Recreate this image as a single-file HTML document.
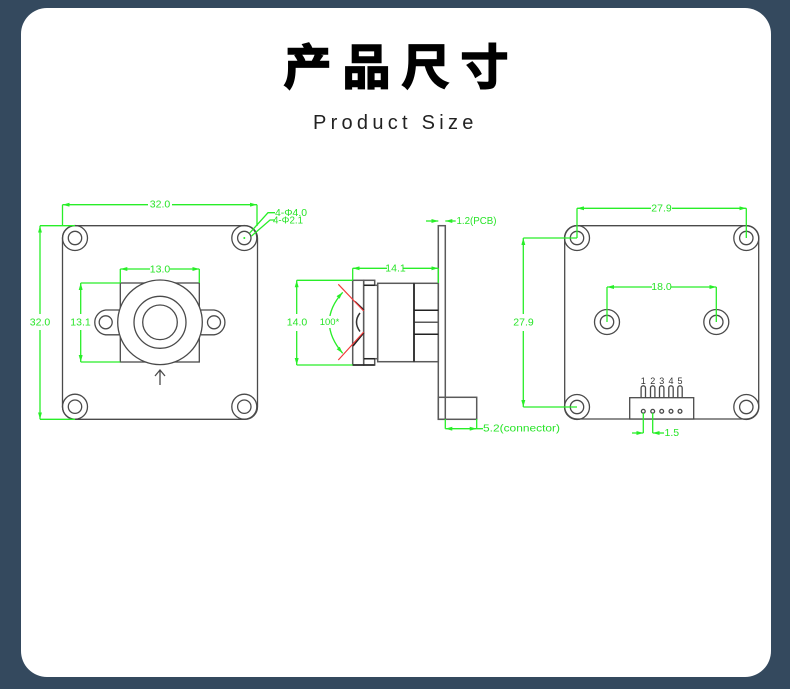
<!DOCTYPE html>
<html><head><meta charset="utf-8">
<style>
html,body{margin:0;padding:0;background:#34495e;width:790px;height:689px;overflow:hidden}
svg{display:block;position:absolute;left:0;top:0}
.g{stroke:#28ee28;stroke-width:1.3;fill:none}
.k{stroke:#4a4a4a;stroke-width:1.3;fill:none}
.kd{stroke:#222;stroke-width:1.5;fill:none}
.r{stroke:#f03a3a;stroke-width:1.2;fill:none}
text{font-family:"Liberation Sans",sans-serif}
.t{fill:#28e428;font-size:10.5px;text-anchor:middle;dominant-baseline:central}
.tl{fill:#28e428;font-size:10.5px;dominant-baseline:central}
.n{fill:#333;font-size:9px;text-anchor:middle}
</style></head><body>
<svg width="790" height="689" viewBox="0 0 790 689" xmlns="http://www.w3.org/2000/svg">
<defs>
<marker id="ae" viewBox="0 0 7 4" refX="7" refY="2" markerWidth="7" markerHeight="4" orient="auto" markerUnits="userSpaceOnUse"><path d="M0 0L7 2L0 4Z" fill="#28ee28"/></marker>
<marker id="as" viewBox="0 0 7 4" refX="0" refY="2" markerWidth="7" markerHeight="4" orient="auto" markerUnits="userSpaceOnUse"><path d="M7 0L0 2L7 4Z" fill="#28ee28"/></marker>
</defs>
<rect x="0" y="0" width="790" height="689" fill="#34495e"/>
<rect x="21" y="8" width="750" height="669" rx="26" ry="26" fill="#fff"/>

<text x="401.5" y="84" text-anchor="middle" font-size="48" font-weight="700" letter-spacing="11" style='font-family:"Noto Sans CJK SC","WenQuanYi Zen Hei",sans-serif' fill="#000" stroke="#000" stroke-width="1.6">产品尺寸</text>
<text x="313" y="129" font-size="20" letter-spacing="4.27" fill="#222">Product Size</text>

<!-- Front view -->
<g class="k">
<rect x="62.5" y="225.7" width="195" height="193.6" rx="12.5" ry="12.5"/>
<circle cx="75" cy="238" r="12.5"/><circle cx="75" cy="238" r="6.7"/>
<circle cx="244.3" cy="238" r="12.5"/><circle cx="244.3" cy="238" r="6.7"/>
<circle cx="75" cy="406.7" r="12.5"/><circle cx="75" cy="406.7" r="6.7"/>
<circle cx="244.3" cy="406.7" r="12.5"/><circle cx="244.3" cy="406.7" r="6.7"/>
<rect x="120.3" y="283" width="79" height="79"/>
<path d="M119 310H105.7A12.5 12.5 0 0 0 105.7 334.8H119" fill="#fff"/>
<path d="M201 310H214A12.5 12.5 0 0 1 214 334.8H201" fill="#fff"/>
<circle cx="105.7" cy="322.3" r="6.5"/>
<circle cx="214" cy="322.3" r="6.5"/>
<circle cx="160" cy="322.3" r="42.3" fill="#fff"/>
<circle cx="160" cy="322.3" r="26"/>
<circle cx="160" cy="322.3" r="17.3"/>
<path d="M160 385V370M155 376L160 370L165 376"/>
</g>
<circle cx="244.3" cy="238" r="1" fill="#28ee28"/>
<g class="g">
<path d="M62.5 226V204.7M257 226V204.7"/>
<path d="M62.5 204.7H148M172 204.7H257" marker-start="url(#as)" marker-end="url(#ae)"/>
<path d="M40 225.7H75M40 419.3H75"/>
<path d="M40 225.7V314M40 330V419.3" marker-start="url(#as)" marker-end="url(#ae)"/>
<path d="M120.3 283V269M199.3 283V269"/>
<path d="M120.3 269H150M170 269H199.3" marker-start="url(#as)" marker-end="url(#ae)"/>
<path d="M80.7 283H120.3M80.7 362H120.3"/>
<path d="M80.7 283V314M80.7 330V362" marker-start="url(#as)" marker-end="url(#ae)"/>
<path d="M249.7 233L268 212.7H275M251.5 236L270 220H275"/>
</g>
<text class="t" x="160" y="204.5">32.0</text>
<text class="t" x="40" y="322.5">32.0</text>
<text class="t" x="160" y="269.5">13.0</text>
<text class="t" x="80.5" y="322.5">13.1</text>
<text class="tl" x="275" y="213" textLength="32" lengthAdjust="spacingAndGlyphs">4-Φ4.0</text>
<text class="tl" x="273" y="220.5" textLength="30" lengthAdjust="spacingAndGlyphs">4-Φ2.1</text>

<!-- Side view -->
<g class="k" style="stroke:#5a5a5a;stroke-width:1.5">
<rect x="438.3" y="225.7" width="7" height="193.6"/>
<rect x="438.3" y="397.3" width="38.4" height="22"/>
<rect x="352.7" y="280.3" width="11" height="84.7"/>
<rect x="363.7" y="280.3" width="11" height="84.7"/>
<rect x="363.7" y="285.3" width="14" height="73.4" fill="#fff"/>
<rect x="377.7" y="283.3" width="36.3" height="78.4"/>
<rect x="414" y="283.3" width="24.3" height="78.4"/>
<path d="M414 322.3H438.3"/>
<path d="M360 313Q353 322 360 331.5" style="stroke:#333"/>
</g>
<g class="kd">
<path d="M414 283.3V361.7M414 310.3H438.3M414 334.3H438.3"/>
<path d="M364 285.3H374.7M364 358.7H374.7M352.7 365H374.7"/>
<path d="M355 301.5L364 310M353 346L364 332.5"/>
</g>
<path class="r" d="M338.3 284.3L363.7 311M338.3 360L363.7 332"/>
<g class="g">
<path d="M342.7 292.3Q316 322 342.7 353.3" marker-start="url(#as)" marker-end="url(#ae)"/>
<path d="M352.7 280V268.3M438.3 283V268.3"/>
<path d="M352.7 268.3H387M403 268.3H438.3" marker-start="url(#as)" marker-end="url(#ae)"/>
<path d="M296.7 280.3H352.7M296.7 365H352.7"/>
<path d="M296.7 280.3V314M296.7 331V365" marker-start="url(#as)" marker-end="url(#ae)"/>
<path d="M426 221H438.3" marker-end="url(#ae)"/>
<path d="M455.7 221H445.3" marker-end="url(#ae)"/>
<path d="M445.3 419V428.7M476.7 419V428.7"/>
<path d="M445.3 428.7H476.7" marker-start="url(#as)" marker-end="url(#ae)"/>
<path d="M476.7 428.7H483"/>
</g>
<rect x="320" y="316" width="19" height="12" fill="#fff"/>
<text class="t" x="329.5" y="322.5" style="font-size:9.5px">100*</text>
<text class="t" x="395.5" y="268.5">14.1</text>
<text class="t" x="297" y="322.5">14.0</text>
<text class="tl" x="456.5" y="221" textLength="40" lengthAdjust="spacingAndGlyphs">1.2(PCB)</text>
<text class="tl" x="483" y="428.5" textLength="77" lengthAdjust="spacingAndGlyphs">5.2(connector)</text>

<!-- Back view -->
<g class="k">
<rect x="564.7" y="225.7" width="194" height="193.3" rx="12.5" ry="12.5"/>
<circle cx="577" cy="238" r="12.5"/><circle cx="577" cy="238" r="6.7"/>
<circle cx="746.3" cy="238" r="12.5"/><circle cx="746.3" cy="238" r="6.7"/>
<circle cx="577" cy="407" r="12.5"/><circle cx="577" cy="407" r="6.7"/>
<circle cx="746.3" cy="407" r="12.5"/><circle cx="746.3" cy="407" r="6.7"/>
<circle cx="607" cy="322" r="12.5"/><circle cx="607" cy="322" r="6.7"/>
<circle cx="716.3" cy="322" r="12.5"/><circle cx="716.3" cy="322" r="6.7"/>
<rect x="629.7" y="397.7" width="64" height="21.3" fill="#fff"/>
<path d="M641.1 397.7V388A2.2 2.2 0 0 1 645.5 388V397.7"/>
<path d="M650.5 397.7V388A2.2 2.2 0 0 1 654.9 388V397.7"/>
<path d="M659.5 397.7V388A2.2 2.2 0 0 1 663.9 388V397.7"/>
<path d="M668.8 397.7V388A2.2 2.2 0 0 1 673.2 388V397.7"/>
<path d="M677.8 397.7V388A2.2 2.2 0 0 1 682.2 388V397.7"/>
<circle cx="643.3" cy="411.3" r="1.9"/><circle cx="652.7" cy="411.3" r="1.9"/><circle cx="661.7" cy="411.3" r="1.9"/><circle cx="671" cy="411.3" r="1.9"/><circle cx="680" cy="411.3" r="1.9"/>
</g>
<text class="n" x="643.3" y="384">1</text><text class="n" x="652.7" y="384">2</text><text class="n" x="661.7" y="384">3</text><text class="n" x="671" y="384">4</text><text class="n" x="680" y="384">5</text>
<g class="g">
<path d="M577 238V208.3M746.3 238V208.3"/>
<path d="M577 208.3H651M672 208.3H746.3" marker-start="url(#as)" marker-end="url(#ae)"/>
<path d="M523.3 238H577M523.3 407H577"/>
<path d="M523.3 238V314M523.3 331V407" marker-start="url(#as)" marker-end="url(#ae)"/>
<path d="M607 322V287M716.3 322V287"/>
<path d="M607 287H652M671 287H716.3" marker-start="url(#as)" marker-end="url(#ae)"/>
<path d="M643.3 413V433M652.7 413V433"/>
<path d="M632 433H643.3" marker-end="url(#ae)"/>
<path d="M664 433H652.7" marker-end="url(#ae)"/>
</g>
<text class="t" x="661.5" y="208.5">27.9</text>
<text class="t" x="523.5" y="322.5">27.9</text>
<text class="t" x="661.5" y="287">18.0</text>
<text class="tl" x="664.5" y="433">1.5</text>
</svg>
</body></html>
